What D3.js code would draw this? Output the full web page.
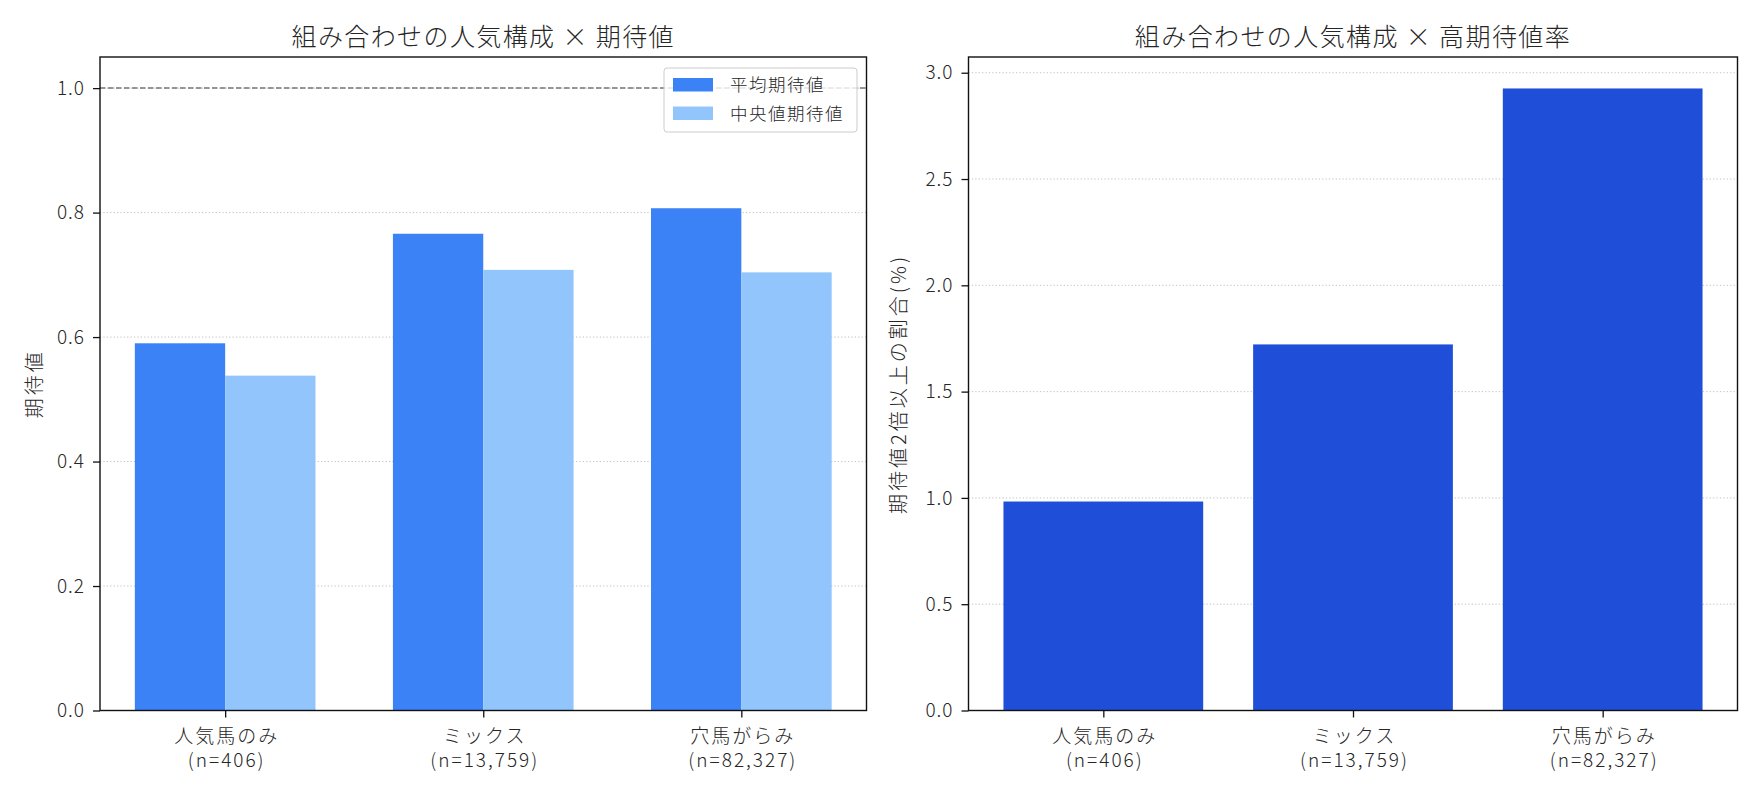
<!DOCTYPE html>
<html>
<head>
<meta charset="utf-8">
<script src="https://cdn.jsdelivr.net/npm/d3@7"></script>
<style>
  body { margin: 0; background: #fff; }
  svg text { font-family: "Noto Sans CJK JP", "Noto Sans", sans-serif; font-weight: 300; fill: #262626; }
</style>
</head>
<body>
<svg id="chart" width="1760" height="800"></svg>
<script>
// data
const groups = ["人気馬のみ", "ミックス", "穴馬がらみ"];
const counts = ["(n=406)", "(n=13,759)", "(n=82,327)"];
const meanEV = [0.590, 0.766, 0.807];
const medianEV = [0.538, 0.708, 0.704];
const highRate = [0.983, 1.722, 2.926];
const leftTicks = [0.0, 0.2, 0.4, 0.6, 0.8, 1.0];
const rightTicks = [0.0, 0.5, 1.0, 1.5, 2.0, 2.5, 3.0];

const svg = d3.select("#chart");
const plotTop = 57, plotBottom = 710.5;

function drawFrame(g, x0, x1, y, ticks, title, ylabel, ylabelX) {
  // grid
  g.selectAll(".grid").data(ticks).enter().append("line")
    .attr("x1", x0).attr("x2", x1)
    .attr("y1", d => y(d)).attr("y2", d => y(d))
    .attr("stroke", "#b0b0b0").attr("stroke-opacity", 0.8)
    .attr("stroke-width", 1).attr("stroke-dasharray", "1.2,2.2");

  // title
  g.append("text").attr("x", (x0 + x1) / 2).attr("y", 46)
    .attr("text-anchor", "middle").style("font-size", "25px")
    .style("letter-spacing", "1.4px")
    .text(title);

  g.append("text")
    .attr("transform", `translate(${ylabelX}, ${(plotTop + plotBottom) / 2}) rotate(-90)`)
    .attr("text-anchor", "middle").style("font-size", "20px")
    .style("letter-spacing", "3px")
    .text(ylabel);
}

function drawAxes(g, x0, x1, x, y, ticks, fmt) {
  let yAxis = d3.axisLeft(y).tickValues(ticks).tickFormat(fmt).tickSize(7).tickPadding(8);
  let ya = g.append("g").attr("transform", `translate(${x0},0)`).call(yAxis);
  ya.select(".domain").remove();
  ya.selectAll("text").style("font-size", "19px").style("letter-spacing", "1px").attr("fill", "#262626");
  ya.selectAll("line").attr("stroke", "#111").attr("stroke-width", 1.3);

  let xa = g.append("g").attr("transform", `translate(0,${plotBottom})`)
    .call(d3.axisBottom(x).tickValues([0, 1, 2]).tickFormat("").tickSize(7));
  xa.select(".domain").remove();
  xa.selectAll("line").attr("stroke", "#111").attr("stroke-width", 1.3);
  xa.selectAll(".tick").each(function(d) {
    let t = d3.select(this).append("text").attr("text-anchor", "middle")
      .style("font-size", "19px").style("letter-spacing", "2px");
    t.append("tspan").attr("x", 1).attr("y", 32).text(groups[d]);
    t.append("tspan").attr("x", 1).attr("y", 56).text(counts[d]);
  });

  g.append("rect").attr("x", x0).attr("y", plotTop)
    .attr("width", x1 - x0).attr("height", plotBottom - plotTop)
    .attr("fill", "none").attr("stroke", "#111").attr("stroke-width", 1.4);
}

// left panel
const L0 = 100, L1 = 866.5;
const xL = d3.scaleLinear().domain([-0.485, 2.485]).range([L0, L1]);
const yL = d3.scaleLinear().domain([0, 1.05]).range([plotBottom, plotTop]);
const left = svg.append("g");
drawFrame(left, L0, L1, yL, leftTicks.slice(1), "組み合わせの人気構成 × 期待値", "期待値", 42);

const bw = 0.35;
left.selectAll(".mean").data(meanEV).enter().append("rect")
  .attr("x", (d, i) => xL(i - bw)).attr("width", xL(bw) - xL(0))
  .attr("y", d => yL(d)).attr("height", d => yL(0) - yL(d))
  .attr("fill", "#3b82f6");
left.selectAll(".median").data(medianEV).enter().append("rect")
  .attr("x", (d, i) => xL(i)).attr("width", xL(bw) - xL(0))
  .attr("y", d => yL(d)).attr("height", d => yL(0) - yL(d))
  .attr("fill", "#93c5fd");

left.append("line").attr("x1", L0).attr("x2", L1)
  .attr("y1", yL(1)).attr("y2", yL(1))
  .attr("stroke", "#777").attr("stroke-width", 1.5).attr("stroke-dasharray", "5.5,2.5");

drawAxes(left, L0, L1, xL, yL, leftTicks, d3.format(".1f"));

// legend
const leg = left.append("g").attr("transform", "translate(664,68)");
leg.append("rect").attr("width", 193).attr("height", 64).attr("rx", 3)
  .attr("fill", "#fff").attr("fill-opacity", 0.8)
  .attr("stroke", "#ccc").attr("stroke-width", 1);
const legItems = [["平均期待値", "#3b82f6"], ["中央値期待値", "#93c5fd"]];
legItems.forEach((it, i) => {
  leg.append("rect").attr("x", 9).attr("y", 10 + i * 28.5).attr("width", 40).attr("height", 13.5).attr("fill", it[1]);
  leg.append("text").attr("x", 66).attr("y", 23 + i * 28.5).style("font-size", "17.5px")
    .style("letter-spacing", "1.5px").text(it[0]);
});

// right panel
const R0 = 968.5, R1 = 1737.5;
const xR = d3.scaleLinear().domain([-0.54, 2.54]).range([R0, R1]);
const yR = d3.scaleLinear().domain([0, 3.074]).range([plotBottom, plotTop]);
const right = svg.append("g");
drawFrame(right, R0, R1, yR, rightTicks, "組み合わせの人気構成 × 高期待値率", "期待値2倍以上の割合(%)", 906);

right.selectAll(".bar").data(highRate).enter().append("rect")
  .attr("x", (d, i) => xR(i - 0.4)).attr("width", xR(0.8) - xR(0))
  .attr("y", d => yR(d)).attr("height", d => yR(0) - yR(d))
  .attr("fill", "#1f4fd8");

drawAxes(right, R0, R1, xR, yR, rightTicks, d3.format(".1f"));
</script>
</body>
</html>
